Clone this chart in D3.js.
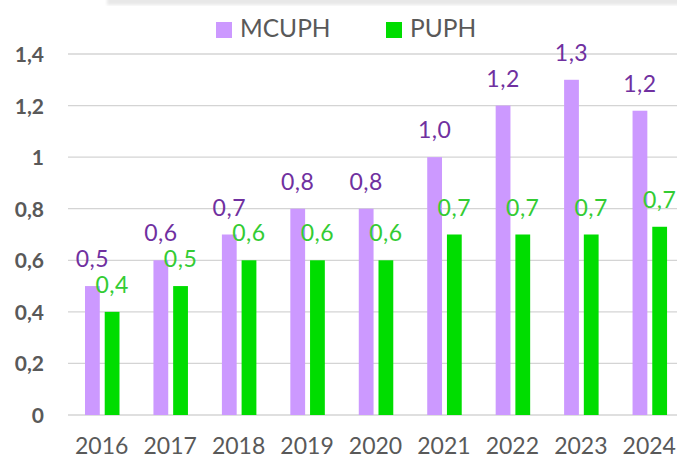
<!DOCTYPE html>
<html>
<head>
<meta charset="utf-8">
<script src="https://cdn.jsdelivr.net/npm/d3@7"></script>
<style>
  html, body { margin: 0; padding: 0; background: #fff; }
  svg { display: block; font-family: Lato, "Open Sans", sans-serif; }
</style>
</head>
<body>
<svg id="chart" width="677" height="460"></svg>
<script>
const years = ['2016', '2017', '2018', '2019', '2020', '2021', '2022', '2023', '2024'];
const seriesNames = ['MCUPH', 'PUPH'];
const mcuph = [0.5, 0.6, 0.7, 0.8, 0.8, 1.0, 1.2, 1.3, 1.18];
const puph = [0.4, 0.5, 0.6, 0.6, 0.6, 0.7, 0.7, 0.7, 0.73];
const yTicks = [0, 0.2, 0.4, 0.6, 0.8, 1, 1.2, 1.4];

const barColors = { MCUPH: '#cc99ff', PUPH: '#00dd00' };
const labelColors = { MCUPH: '#7030a0', PUPH: '#33cc33' };

const svg = d3.select('#chart');

// faint shadow strip along the top edge, from the source screenshot
const defs = svg.append('defs');
defs.append('filter').attr('id', 'blur')
  .append('feGaussianBlur').attr('stdDeviation', 1.5);
svg.append('rect')
  .attr('x', 107).attr('y', -3).attr('width', 580).attr('height', 8)
  .attr('fill', '#e8e8e8')
  .attr('filter', 'url(#blur)');

const x0 = d3.scaleBand().domain(years).range([68, 684]).padding(0);
const x1 = d3.scaleBand().domain(seriesNames).range([17, 51.5]).paddingInner(0.25);
const y = d3.scaleLinear().domain([0, 1.4]).range([415, 54]);

const fmtTick = v => d3.format('~g')(v).replace('.', ',');
const fmtLabel = v => d3.format('.1f')(v).replace('.', ',');

// gridlines
svg.append('g')
  .selectAll('line')
  .data(yTicks)
  .enter()
  .append('line')
  .attr('x1', 68)
  .attr('x2', 677)
  .attr('y1', d => y(d))
  .attr('y2', d => y(d))
  .attr('stroke', '#d4d4d4')
  .attr('stroke-width', 1.3);

// y tick labels
svg.append('g')
  .selectAll('text')
  .data(yTicks)
  .enter()
  .append('text')
  .attr('x', 44)
  .attr('y', d => y(d) + 8)
  .attr('text-anchor', 'end')
  .attr('font-size', '21px')
  .attr('font-weight', 'bold')
  .attr('fill', '#595959')
  .text(fmtTick);

// x labels (cut by the bottom edge in the source; kept just inside here)
svg.append('g')
  .selectAll('text')
  .data(years)
  .enter()
  .append('text')
  .attr('x', d => x0(d) + x0.bandwidth() / 2 - 0.5)
  .attr('y', 454)
  .attr('text-anchor', 'middle')
  .attr('font-size', '23px')
  .attr('fill', '#595959')
  .text(d => d);

const rows = years.map((yr, i) => ({ year: yr, MCUPH: mcuph[i], PUPH: puph[i] }));

const groups = svg.append('g')
  .selectAll('g')
  .data(rows)
  .enter()
  .append('g')
  .attr('transform', d => `translate(${x0(d.year)},0)`);

const cells = groups.selectAll('g')
  .data(d => seriesNames.map(key => ({ key, value: d[key] })))
  .enter()
  .append('g');

cells.append('rect')
  .attr('x', d => x1(d.key))
  .attr('y', d => y(d.value))
  .attr('width', x1.bandwidth())
  .attr('height', d => y(0) - y(d.value))
  .attr('fill', d => barColors[d.key]);

cells.append('text')
  .attr('x', d => x1(d.key) + x1.bandwidth() / 2)
  .attr('y', d => y(d.value) - 19)
  .attr('text-anchor', 'middle')
  .attr('font-size', '23px')
  .attr('letter-spacing', '0.5px')
  .attr('fill', d => labelColors[d.key])
  .text(d => fmtLabel(d.value));

// legend
const legendX = { MCUPH: 216, PUPH: 386 };
const legend = svg.append('g')
  .selectAll('g')
  .data(seriesNames)
  .enter()
  .append('g')
  .attr('transform', d => `translate(${legendX[d]},22)`);

legend.append('rect')
  .attr('width', 16)
  .attr('height', 16)
  .attr('fill', d => barColors[d]);

legend.append('text')
  .attr('x', 24)
  .attr('y', 15)
  .attr('font-size', '24.5px')
  .attr('fill', '#595959')
  .text(d => d);
</script>
</body>
</html>
